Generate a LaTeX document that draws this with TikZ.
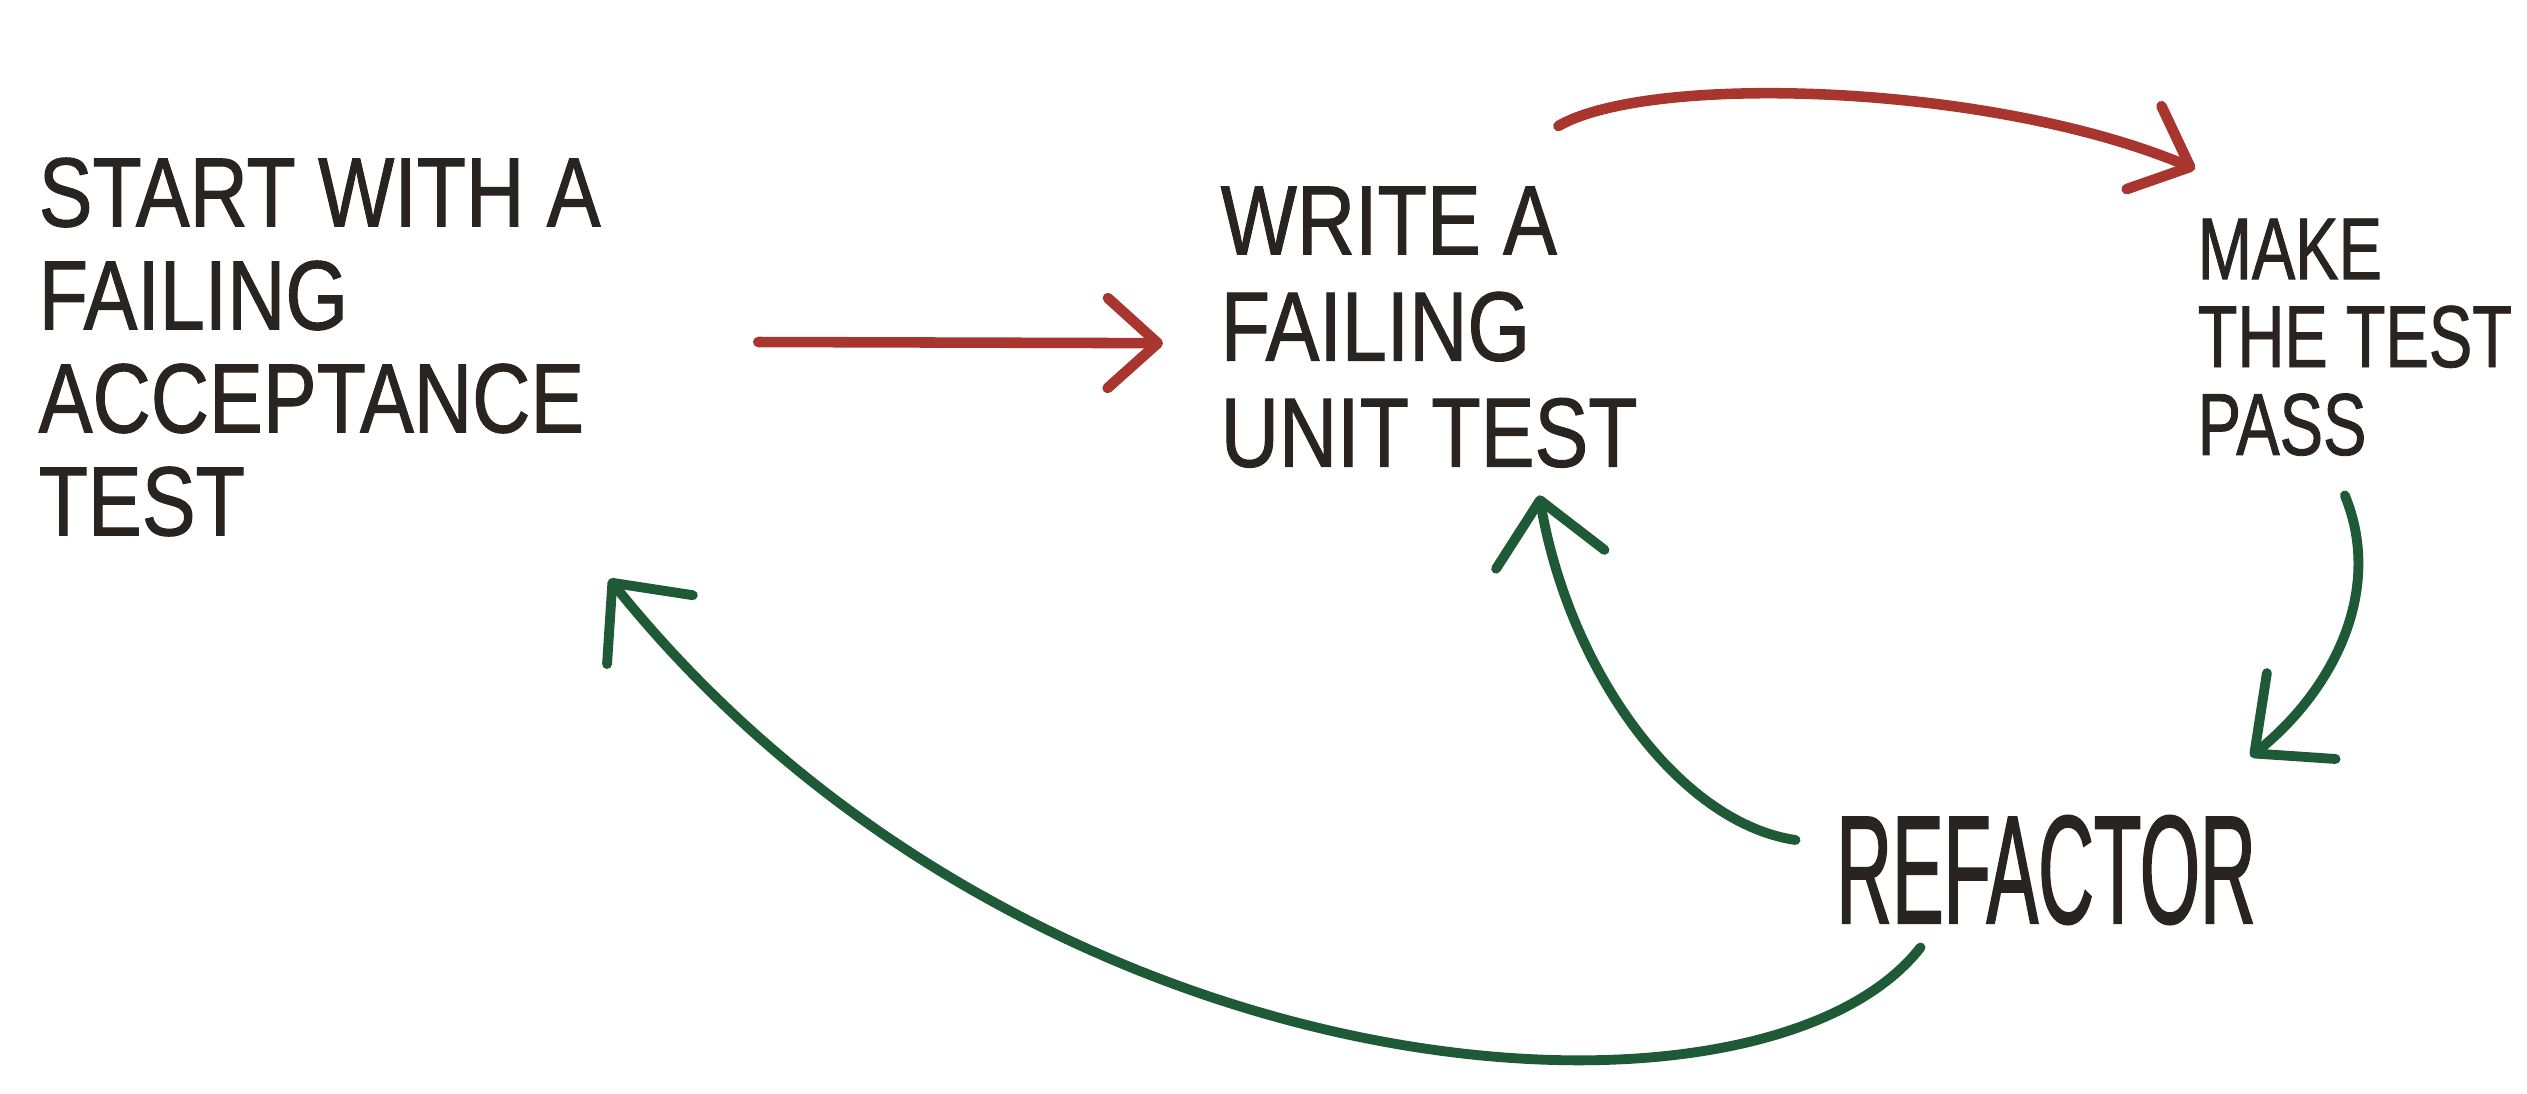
\documentclass[tikz,border=0pt]{standalone}
\usepackage{fontspec}
\setmainfont{Liberation Sans}
\newfontfamily\handwide{Liberation Sans}[FakeStretch=0.82, FakeBold=1]
\newfontfamily\handthin{Liberation Sans}[FakeStretch=0.74, FakeBold=1]
\newfontfamily\handslim{Liberation Sans}[FakeStretch=0.5, FakeBold=1]
\usetikzlibrary{arrows.meta}
\definecolor{inkblack}{HTML}{2A2420}
\definecolor{markerred}{HTML}{A8362F}
\definecolor{markergreen}{HTML}{1F5A36}
\tikzset{
	handtext/.style = {text = inkblack, inner sep = 0pt, align = left},
	redmarker/.style = {draw = markerred, line width = 3pt, line cap = round, -{Straight Barb[round, length = 5mm, width = 9mm]}},
	greenmarker/.style = {draw = markergreen, line width = 2.8pt, line cap = round, -{Straight Barb[round, length = 6mm, width = 11mm]}}
}
\begin{document}
\begin{tikzpicture}
	\useasboundingbox (0, 0) rectangle (25.27, 10.93);

	% steps:
	\node[handtext, anchor = north west, font = \handwide\fontsize{28}{29.3}\selectfont] (accept) at (0.38, 9.36) {START WITH A\\FAILING\\ACCEPTANCE\\TEST};
	\node[handtext, anchor = north west, font = \handwide\fontsize{28}{30.2}\selectfont] (write) at (12.2, 9.07) {WRITE A\\FAILING\\UNIT TEST};
	\node[handtext, anchor = north west, font = \handthin\fontsize{25}{25}\selectfont] (make) at (21.97, 8.75) {MAKE\\THE TEST\\PASS};
	\node[handtext, font = \handslim\fontsize{44}{44}\selectfont] (refactor) at (20.46, 2.23) {REFACTOR};

	% red arrows
	\draw[redmarker] ([xshift = 15.7mm, yshift = 0.5mm]accept.east) -- ([xshift = -5.7mm, yshift = -1.6mm]write.west);
	\draw[redmarker] ([xshift = -8mm, yshift = 6mm]write.north east) .. controls (16.5, 10.2) and (19.9, 10.1) .. ([xshift = -0.2mm, yshift = 4.9mm]make.north west);

	% green arrows
	\draw[greenmarker] ([xshift = -1mm, yshift = -3.9mm]make.south) .. controls (23.85, 5.0) and (23.3, 4.0) .. ([xshift = -0.6mm, yshift = 5.8mm]refactor.north east);
	\draw[greenmarker] ([xshift = -4mm, yshift = 3mm]refactor.west) .. controls (16.8, 2.7) and (15.7, 4.2) .. ([xshift = 11mm, yshift = -2.7mm]write.south);
	\draw[greenmarker] ([xshift = 8.5mm, yshift = -2.2mm]refactor.south west) .. controls (17.6, -0.6) and (10.3, -0.1) .. ([xshift = 0.8mm, yshift = -4.2mm]accept.south east);
\end{tikzpicture}
\end{document}
